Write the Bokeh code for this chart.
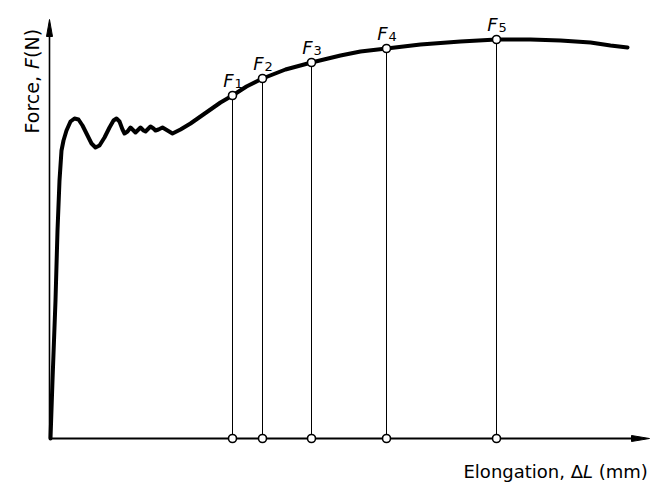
from bokeh.plotting import figure
from bokeh.models import Range1d
from bokeh.core.properties import value
from bokeh.embed import file_html
from bokeh.resources import INLINE
import math

# ---- data (arbitrary units: elongation, force) ----
curve_x = [0.1, 0.3, 0.6, 0.8, 1.0, 1.2, 1.4, 1.7, 2.1, 2.5, 2.9, 3.3, 3.8, 4.2, 4.6,
           5.0, 5.5, 6.0, 6.4, 6.7, 7.0, 7.3, 7.5, 7.8, 8.1, 8.4, 8.6, 8.9, 9.1, 9.4,
           9.6, 9.9, 10.1, 10.4, 10.6, 10.9, 11.3, 11.8, 12.3, 13.1, 14.1, 15.1, 16.1,
           17.1, 18.3, 19.7, 21.3, 23.6, 26.2, 29.1, 31.1, 33.7, 37.1, 41.1, 44.7,
           48.1, 51.1, 54.1, 56.1, 57.8]
curve_y = [0.0, 5.8, 13.8, 20.8, 25.8, 28.8, 29.8, 30.8, 31.7, 32.0, 31.9, 31.3, 30.3, 29.5, 29.1,
           29.3, 30.1, 31.1, 31.8, 32.0, 31.7, 30.9, 30.5, 30.7, 31.1, 30.8, 30.6, 30.9, 31.1, 30.8,
           30.7, 31.0, 31.2, 31.0, 30.8, 30.9, 31.1, 30.8, 30.5, 30.9, 31.5, 32.2, 32.9,
           33.6, 34.3, 35.2, 36.0, 36.9, 37.6, 38.3, 38.7, 39.0, 39.4, 39.7, 39.9,
           39.9, 39.8, 39.6, 39.3, 39.1]

f_x = [18.3, 21.3, 26.2, 33.7, 44.7]
f_y = [34.3, 36.0, 37.6, 39.0, 39.9]
f_sub = ["1", "2", "3", "4", "5"]

x_axis_end = 60.0
y_axis_end = 41.9

FONT = "DejaVu Sans"
PX = 10.0  # pixels per data unit (both axes)

p = figure(width=659, height=483, output_backend="svg", toolbar_location=None,
           x_range=Range1d(-4.9, 61.0), y_range=Range1d(-4.5, 43.8),
           x_axis_location=None, y_axis_location=None, min_border=0,
           background_fill_color="white", border_fill_color="white")
p.outline_line_color = None
p.grid.visible = False

# axes
p.line([0, x_axis_end - 1.2], [0, 0], line_color="black", line_width=2)
p.line([0, 0], [0, y_axis_end - 1.2], line_color="black", line_width=1.6)
p.patch([x_axis_end - 1.8, x_axis_end, x_axis_end - 1.8], [0.3, 0, -0.3], color="black")
p.patch([-0.3, 0, 0.3], [y_axis_end - 1.7, y_axis_end, y_axis_end - 1.7], color="black")

# drop lines
p.segment(x0=f_x, y0=[0] * len(f_x), x1=f_x, y1=f_y, line_color="black", line_width=1)

# curve
p.line(curve_x, curve_y, line_color="black", line_width=4, line_join="round", line_cap="round")

# markers
p.scatter(f_x, f_y, marker="circle", size=8, fill_color="white", line_color="black", line_width=1.6)
p.scatter(f_x, [0] * len(f_x), marker="circle", size=8, fill_color="white", line_color="black", line_width=1.6)

# F labels
p.text(f_x, f_y, text=["F"] * len(f_x), text_font=value(FONT), text_font_style="italic",
       text_font_size="18px", text_align="right", text_baseline="alphabetic",
       x_offset=1, y_offset=-15, text_color="black")
p.text(f_x, f_y, text=f_sub, text_font=value(FONT), text_font_size="13px",
       text_align="left", text_baseline="alphabetic", x_offset=2, y_offset=-12, text_color="black")

# x axis title: "Elongation, ΔL (mm)"
fs = 18
w1 = 6.638 * fs / PX
w2 = 0.557 * fs / PX
sp = 0.318 * fs / PX
xt, yt = 41.4, -3.3
p.text([xt], [yt], text=["Elongation, Δ"], text_font=value(FONT), text_font_size=f"{fs}px",
       text_baseline="alphabetic", text_align="left", text_color="black")
p.text([xt + w1], [yt], text=["L"], text_font=value(FONT), text_font_size=f"{fs}px",
       text_font_style="italic", text_baseline="alphabetic", text_align="left", text_color="black")
p.text([xt + w1 + w2 + sp], [yt], text=["(mm)"], text_font=value(FONT), text_font_size=f"{fs}px",
       text_baseline="alphabetic", text_align="left", text_color="black")

# y axis title: "Force, F(N)" (rotated)
fs2 = 19
h1 = 3.399 * fs2 / PX
h2 = 0.575 * fs2 / PX
xa, ya = -1.8, 30.5
ang = math.pi / 2
p.text([xa], [ya], text=["Force,"], angle=ang, text_font=value(FONT), text_font_size=f"{fs2}px",
       text_baseline="alphabetic", text_align="left", text_color="black")
p.text([xa], [ya + h1], text=["F"], angle=ang, text_font=value(FONT), text_font_size=f"{fs2}px",
       text_font_style="italic", text_baseline="alphabetic", text_align="left", text_color="black")
p.text([xa], [ya + h1 + h2], text=["(N)"], angle=ang, text_font=value(FONT), text_font_size=f"{fs2}px",
       text_baseline="alphabetic", text_align="left", text_color="black")

open("out.html", "w").write(file_html(p, INLINE))
